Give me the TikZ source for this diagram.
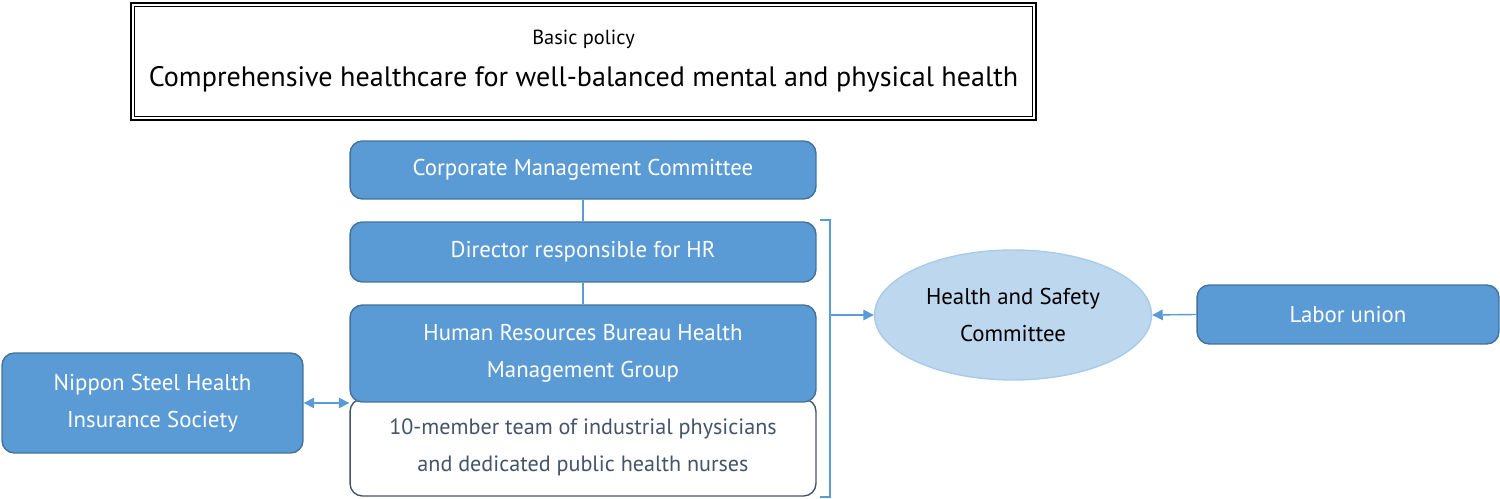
\documentclass[tikz,border=0pt]{standalone}
\usepackage{fontspec}
\setmainfont{PT Sans}
\usetikzlibrary{shapes.geometric,arrows.meta}
\definecolor{boxblue}{HTML}{5B9BD5}
\definecolor{boxedge}{HTML}{41719C}
\definecolor{ovalfill}{HTML}{BDD7EE}
\definecolor{ovaledge}{HTML}{A9CBEA}
\definecolor{slate}{HTML}{44546A}

\begin{document}
\begin{tikzpicture}[x=0.02cm,y=-0.02cm,
        bluebox/.style={draw=boxedge, line width=0.8pt, fill=boxblue, rounded corners=7pt,
          text=white, align=center, inner sep=0pt, font=\fontsize{13}{21}\selectfont},
        whitebox/.style={bluebox, draw=slate, fill=white, text=slate, font=\fontsize{12.6}{21}\selectfont},
        link/.style={draw=boxblue, line width=0.8pt},
        tip/.style={-{Triangle[length=6pt,width=6pt]}}]
        \useasboundingbox (0,0) rectangle (1500,499);
        % basic policy
        \node [draw=black, line width=1.6pt, minimum width=18.1cm, minimum height=2.34cm,
          align=center, inner sep=0pt] (policy) at (583.5,61.5)
          {\fontsize{11.6}{14}\selectfont Basic policy\\[9pt]\fontsize{16}{20}\selectfont Comprehensive healthcare for well-balanced mental and physical health};
        \draw [black, line width=0.5pt] ([shift={(2.6pt,-2.6pt)}]policy.north west) rectangle ([shift={(-2.6pt,2.6pt)}]policy.south east);
        % hierarchy
        \node [bluebox, minimum width=9.32cm, minimum height=1.16cm] (cmc) at (583,170) {Corporate Management Committee};
        \node [bluebox, minimum width=9.32cm, minimum height=1.2cm] (director) at (583,252) {Director responsible for HR};
        \node [whitebox, minimum width=9.32cm, minimum height=1.94cm] (team) at (583,447.5)
          {10-member team of industrial physicians\\and dedicated public health nurses};
        \node [bluebox, minimum width=9.32cm, minimum height=1.94cm] (hrgroup) at (583,353.5)
          {Human Resources Bureau Health\\Management Group};
        \draw [link] (cmc) -- (director);
        \draw [link] (director) -- (hrgroup);
        % side partners
        \node [bluebox, minimum width=6.02cm, minimum height=2cm] (insurance) at (152.5,403)
          {Nippon Steel Health\\Insurance Society};
        \draw [link, {Triangle[length=6pt,width=6pt]}-{Triangle[length=6pt,width=6pt]}] (insurance.east) -- (insurance.east -| hrgroup.west);
        \node [ellipse, draw=ovaledge, line width=0.8pt, fill=ovalfill, minimum width=5.54cm, minimum height=2.6cm,
          inner sep=0pt, align=center, font=\fontsize{13}{21}\selectfont] (hsc) at (1013,315)
          {Health and Safety\\Committee};
        \node [bluebox, minimum width=6.04cm, minimum height=1.18cm] (union) at (1348,314.5) {Labor union};
        % bracket
        \coordinate (bt) at (820,220);
        \coordinate (bb) at (820,497);
        \coordinate (bm) at (830,315);
        \draw [link] (bt) -- ++(10,0) -- ([xshift=10*0.02cm]bb) -- (bb);
        \draw [link, tip] (bm) -- (hsc.west);
        \draw [link, tip] (union.west) -- (hsc.east);
\end{tikzpicture}
\end{document}
